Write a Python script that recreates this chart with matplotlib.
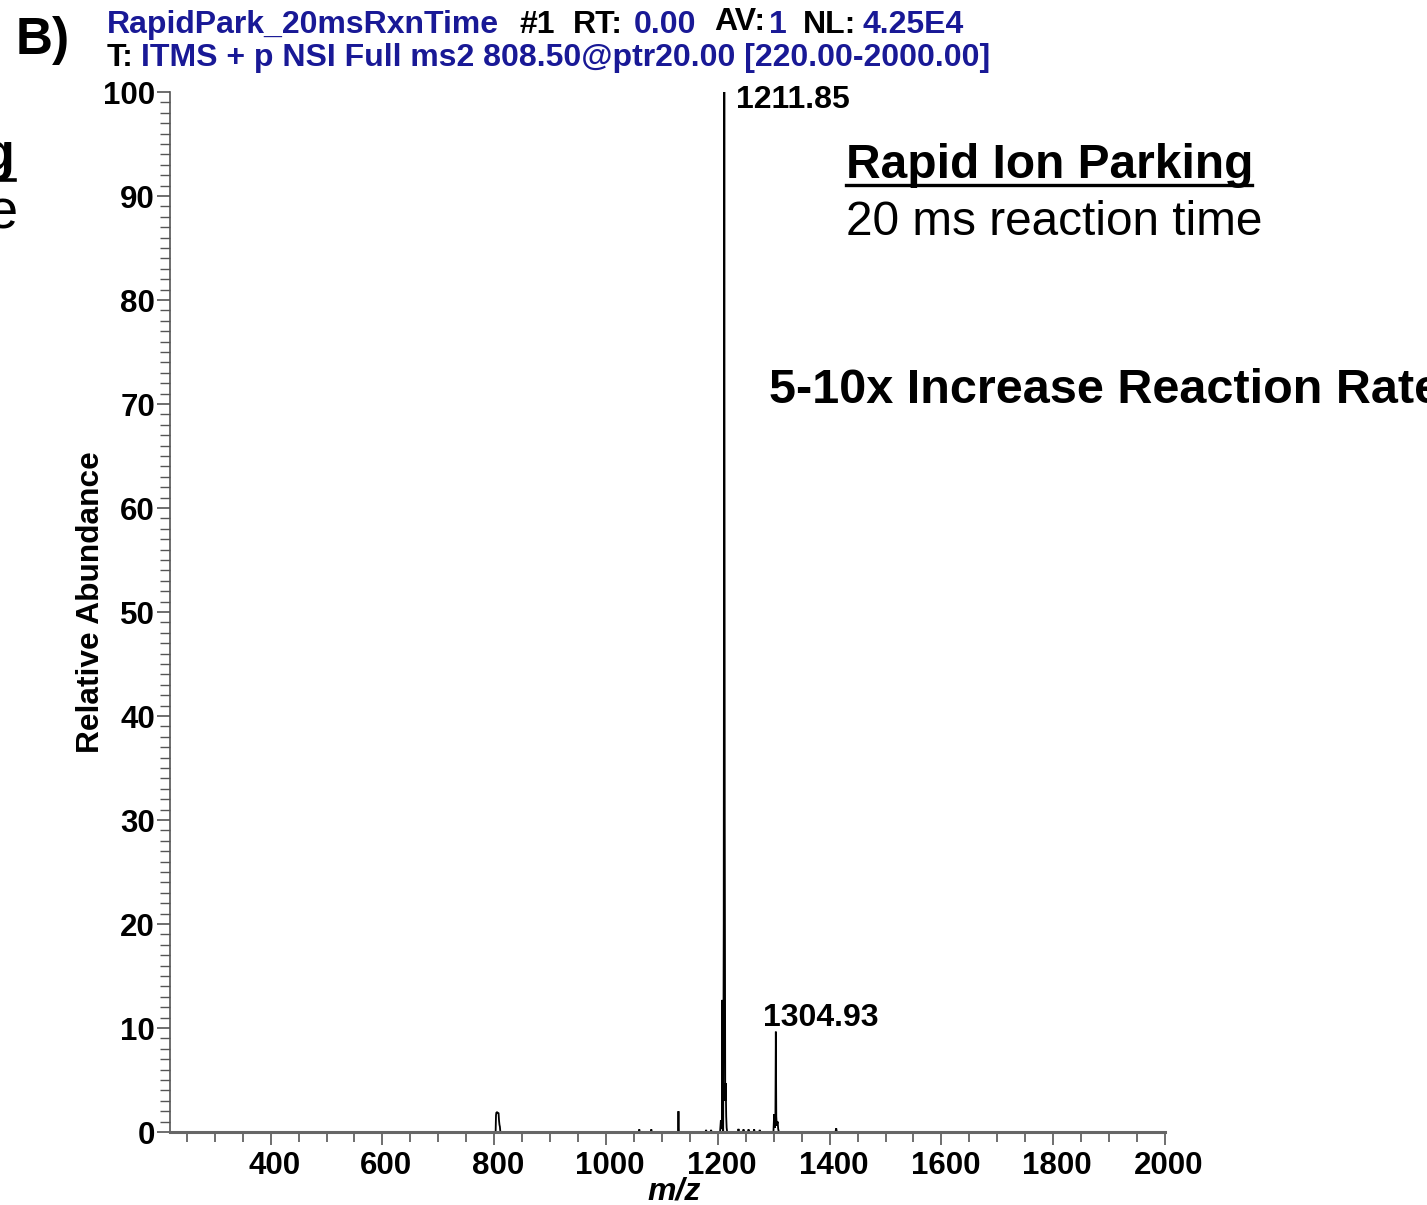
import matplotlib
matplotlib.use("Agg")
import matplotlib.pyplot as plt
import matplotlib.transforms as mtransforms
from matplotlib.lines import Line2D

W, H = 1427, 1205
plt.rcParams['font.family'] = ['Liberation Sans', 'DejaVu Sans']

# ---- data ----
mz = [220, 802.5, 803.2, 803.8, 805.0, 806.5, 807.8, 808.6, 809.4, 810.2, 811.0,
      1058.5, 1059.5, 1060.5, 1080.0, 1081.0, 1082.0,
      1128.8, 1129.6, 1130.4,
      1178.0, 1179.0, 1180.0, 1187.0, 1188.0, 1189.0,
      1204.0, 1205.5, 1206.5, 1207.3, 1208.0, 1208.8, 1209.6, 1210.6, 1211.6, 1212.4,
      1213.3, 1214.2, 1215.0, 1215.8, 1216.8,
      1236.0, 1237.0, 1238.0, 1245.0, 1246.0, 1247.0, 1254.0, 1255.0, 1256.0,
      1264.0, 1265.0, 1266.0, 1274.0, 1275.0, 1276.0,
      1299.5, 1300.8, 1302.0, 1303.0, 1303.8, 1304.6, 1305.6, 1307.0, 1308.0, 1309.2,
      1410.5, 1411.8, 1413.0, 2000]
inten = [0, 0, 1.6, 1.85, 1.9, 1.85, 1.8, 1.1, 0.7, 0.5, 0,
         0, 0.25, 0, 0, 0.25, 0,
         0, 2.0, 0,
         0, 0.2, 0, 0, 0.2, 0,
         0, 1.15, 0.4, 0.3, 12.7, 2.0, 0, 20.0, 100.0, 30.0,
         3.0, 4.7, 1.5, 0.4, 0,
         0, 0.3, 0, 0, 0.25, 0, 0, 0.25, 0,
         0, 0.25, 0, 0, 0.2, 0,
         0, 1.7, 0.4, 1.0, 9.65, 1.5, 0.6, 1.0, 0.3, 0,
         0, 0.35, 0, 0]

peak_labels = ["1211.85", "1304.93"]
peak_label_mz = [1211.85, 1304.93]
peak_label_y = [100.0, 9.65]

x_ticks = [400, 600, 800, 1000, 1200, 1400, 1600, 1800, 2000]
y_ticks = [0, 10, 20, 30, 40, 50, 60, 70, 80, 90, 100]

header_blue = '#191996'
PT = 0.72  # points per pixel at 100 dpi


def P(x, y):
    return (x / W, 1 - y / H)


fig = plt.figure(figsize=(W / 100, H / 100), dpi=100)
ax_l, ax_r, ax_t, ax_b = 170, 1165, 92, 1132
ax = fig.add_axes([ax_l / W, 1 - ax_b / H, (ax_r - ax_l) / W, (ax_b - ax_t) / H])

ax.plot(mz, inten, color='black', lw=1.3, solid_joinstyle='miter')
ax.set_xlim(220, 2000)
ax.set_ylim(0, 100)

for s in ['top', 'right']:
    ax.spines[s].set_visible(False)
ax.spines['left'].set_color('#555555')
ax.spines['left'].set_linewidth(1.2)
ax.spines['bottom'].set_color('#666666')
ax.spines['bottom'].set_linewidth(2.2)

ax.set_xticks(x_ticks)
ax.set_xticks(list(range(250, 2001, 50)), minor=True)
ax.set_yticks(y_ticks)
ax.set_yticks(list(range(0, 101, 1)), minor=True)
ax.tick_params(axis='both', which='major', direction='out', color='#555555', width=1.2,
               labelsize=22.5)
ax.tick_params(axis='x', which='major', length=13 * PT, pad=6 * PT)
ax.tick_params(axis='y', which='major', length=13 * PT, pad=2 * PT)
ax.tick_params(axis='x', which='minor', length=10 * PT, color='#555555', width=1.2)
ax.tick_params(axis='y', which='minor', length=10 * PT, color='#555555', width=1.0)
shift = mtransforms.ScaledTranslation(4 / 100, 0, fig.dpi_scale_trans)
for lab in ax.get_xticklabels():
    lab.set_fontweight('bold')
    lab.set_transform(lab.get_transform() + shift)
for lab in ax.get_yticklabels():
    lab.set_fontweight('bold')

# peak labels
ax.annotate(peak_labels[0], xy=(peak_label_mz[0], peak_label_y[0]), xytext=(12, -16),
            textcoords='offset pixels', ha='left', va='baseline', fontsize=23,
            fontweight='bold')
ax.annotate(peak_labels[1], xy=(peak_label_mz[1], peak_label_y[1]), xytext=(-13, 6),
            textcoords='offset pixels', ha='left', va='baseline', fontsize=23,
            fontweight='bold')

# axis titles
fig.text(*P(674, 1200), 'm/z', ha='center', va='baseline', fontsize=23,
         fontweight='bold', style='italic')
fig.text(*P(91, 602), 'Relative Abundance', ha='center', va='center', rotation=90,
         fontsize=22.8, fontweight='bold')

# header
hdr1 = [("RapidPark_20msRxnTime", 107, header_blue),
        ("#1", 520, 'black'), ("RT:", 573, 'black'), ("0.00", 634, header_blue),
        ("AV:", 714, 'black'), ("1", 769, header_blue), ("NL:", 803, 'black'),
        ("4.25E4", 863, header_blue)]
for t, x, c in hdr1:
    yb = 30 if t == "AV:" else 33
    fig.text(*P(x, yb), t, ha='left', va='baseline', fontsize=23,
             fontweight='bold', color=c)
fig.text(*P(107, 66), "T:", ha='left', va='baseline', fontsize=23,
         fontweight='bold', color='black')
fig.text(*P(141, 66), "ITMS + p NSI Full ms2 808.50@ptr20.00 [220.00-2000.00]",
         ha='left', va='baseline', fontsize=23, fontweight='bold', color=header_blue)

fig.text(*P(16, 54), "B)", ha='left', va='baseline', fontsize=37, fontweight='bold')

# annotations on right
fig.text(*P(846, 178), "Rapid Ion Parking", ha='left', va='baseline', fontsize=34.5,
         fontweight='bold')
fig.add_artist(Line2D([846 / W, 1252 / W], [1 - 184.5 / H, 1 - 184.5 / H],
                      transform=fig.transFigure, color='black', lw=2.4))
fig.text(*P(846, 235), "20 ms reaction time", ha='left', va='baseline', fontsize=34.4)
fig.text(*P(769, 403), "5-10x Increase Reaction Rate", ha='left', va='baseline',
         fontsize=35, fontweight='bold')

# cut-off text from neighbouring panel
fig.text(*P(15, 170), "Ion Parking", ha='right', va='baseline', fontsize=38,
         fontweight='bold')
fig.add_artist(Line2D([0, 15 / W], [1 - 180 / H, 1 - 180 / H],
                      transform=fig.transFigure, color='black', lw=2.6))
fig.text(*P(18, 227), "reaction time", ha='right', va='baseline', fontsize=40)

fig.savefig('out.png', dpi=100)
